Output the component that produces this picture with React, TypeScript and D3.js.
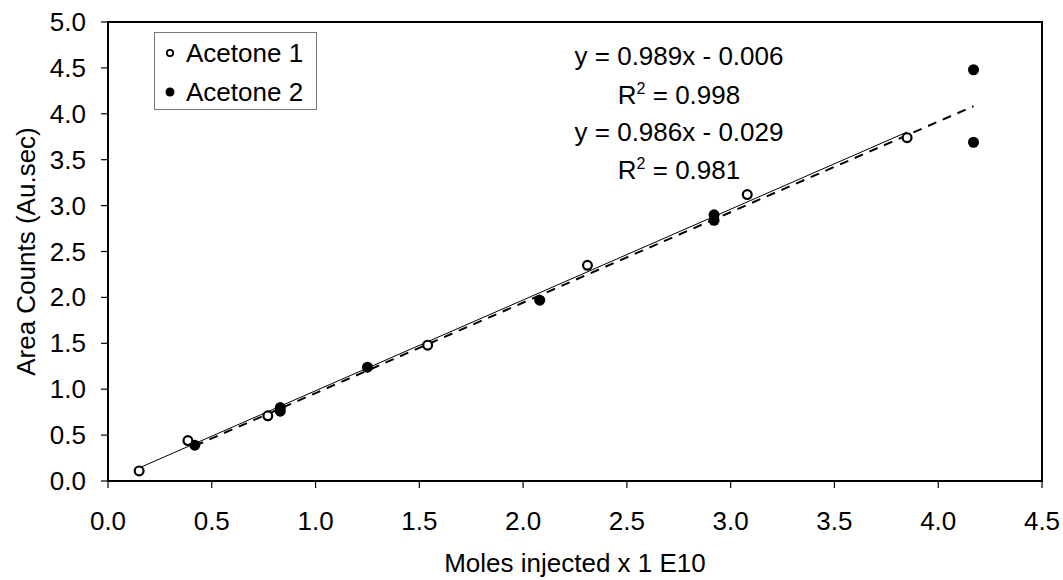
import React from "react";
import * as d3 from "d3";

const xTicks = [0, 0.5, 1.0, 1.5, 2.0, 2.5, 3.0, 3.5, 4.0, 4.5];
const yTicks = [0, 0.5, 1.0, 1.5, 2.0, 2.5, 3.0, 3.5, 4.0, 4.5, 5.0];

const acetone1X = [0.15, 0.385, 0.77, 1.54, 2.31, 3.08, 3.85];
const acetone1Y = [0.11, 0.44, 0.71, 1.48, 2.35, 3.12, 3.74];

const acetone2X = [0.418, 0.83, 0.83, 1.25, 2.08, 2.92, 2.92, 4.17, 4.17];
const acetone2Y = [0.39, 0.80, 0.76, 1.24, 1.97, 2.90, 2.84, 4.48, 3.69];

const fit1 = { slope: 0.989, intercept: -0.006, r2: 0.998 };
const fit2 = { slope: 0.986, intercept: -0.029, r2: 0.981 };

const W = 1063;
const H = 580;
const left = 108;
const right = 1042;
const top = 22;
const bottom = 481;
const FONT = "'Liberation Sans', Arial, sans-serif";
const FS = 26;

export default function App() {
  const x = d3.scaleLinear().domain([0, 4.5]).range([left, right]);
  const y = d3.scaleLinear().domain([0, 5]).range([bottom, top]);

  const fitLine = (xs: number[], f: { slope: number; intercept: number }) => {
    const x0 = d3.min(xs) as number;
    const x1 = d3.max(xs) as number;
    return d3.line<number>()
      .x((d) => x(d))
      .y((d) => y(f.slope * d + f.intercept))([x0, x1]) as string;
  };

  const fmt = d3.format(".1f");

  return (
    <svg width={W} height={H} style={{ position: "absolute", left: 0, top: 0, background: "#fff" }} fontFamily={FONT}>
      <rect x={0} y={0} width={W} height={H} fill="#fff" />
      {xTicks.map((t) => (
        <g key={"xt" + t}>
          <line x1={x(t)} x2={x(t)} y1={bottom} y2={bottom + 7} stroke="#000" strokeWidth={1.2} />
          <text x={x(t)} y={530} textAnchor="middle" fontSize={FS} fill="#000">{fmt(t)}</text>
        </g>
      ))}
      {yTicks.map((t) => (
        <g key={"yt" + t}>
          <line x1={left - 7} x2={left} y1={y(t)} y2={y(t)} stroke="#000" strokeWidth={1.2} />
          <text x={86} y={y(t) + 9} textAnchor="end" fontSize={FS} fill="#000">{fmt(t)}</text>
        </g>
      ))}
      <rect x={left} y={top} width={right - left} height={bottom - top} fill="none" stroke="#000" strokeWidth={2} />

      <path d={fitLine(acetone1X, fit1)} stroke="#000" strokeWidth={1} fill="none" />
      <path d={fitLine(acetone2X, fit2)} stroke="#000" strokeWidth={2} strokeDasharray="9,7" fill="none" />

      {acetone2X.map((v, i) => (
        <circle key={"a2" + i} cx={x(v)} cy={y(acetone2Y[i])} r={5.5} fill="#000" />
      ))}
      {acetone1X.map((v, i) => (
        <circle key={"a1" + i} cx={x(v)} cy={y(acetone1Y[i])} r={4.4} fill="#fff" stroke="#000" strokeWidth={2.2} />
      ))}

      <rect x={154.5} y={32.5} width={162} height={77} fill="#fff" stroke="#777" strokeWidth={1} />
      <circle cx={170} cy={53} r={3.2} fill="#fff" stroke="#000" strokeWidth={1.8} />
      <text x={186} y={62} fontSize={FS} fill="#000">Acetone 1</text>
      <circle cx={170} cy={92} r={4.5} fill="#000" />
      <text x={186} y={101} fontSize={FS} fill="#000">Acetone 2</text>

      <text x={679} y={65} textAnchor="middle" fontSize={FS} fill="#000">y = {fit1.slope.toFixed(3)}x - {Math.abs(fit1.intercept).toFixed(3)}</text>
      <text x={679} y={104} textAnchor="middle" fontSize={FS} fill="#000">R<tspan fontSize={16} dy={-10}>2</tspan><tspan dy={10}> = {fit1.r2.toFixed(3)}</tspan></text>
      <text x={679} y={141} textAnchor="middle" fontSize={FS} fill="#000">y = {fit2.slope.toFixed(3)}x - {Math.abs(fit2.intercept).toFixed(3)}</text>
      <text x={679} y={179} textAnchor="middle" fontSize={FS} fill="#000">R<tspan fontSize={16} dy={-10}>2</tspan><tspan dy={10}> = {fit2.r2.toFixed(3)}</tspan></text>

      <text x={575} y={572} textAnchor="middle" fontSize={FS} fill="#000">Moles injected x 1 E10</text>
      <text transform={`translate(35,${(top + bottom) / 2}) rotate(-90)`} textAnchor="middle" fontSize={FS} fill="#000">Area Counts (Au.sec)</text>
    </svg>
  );
}
